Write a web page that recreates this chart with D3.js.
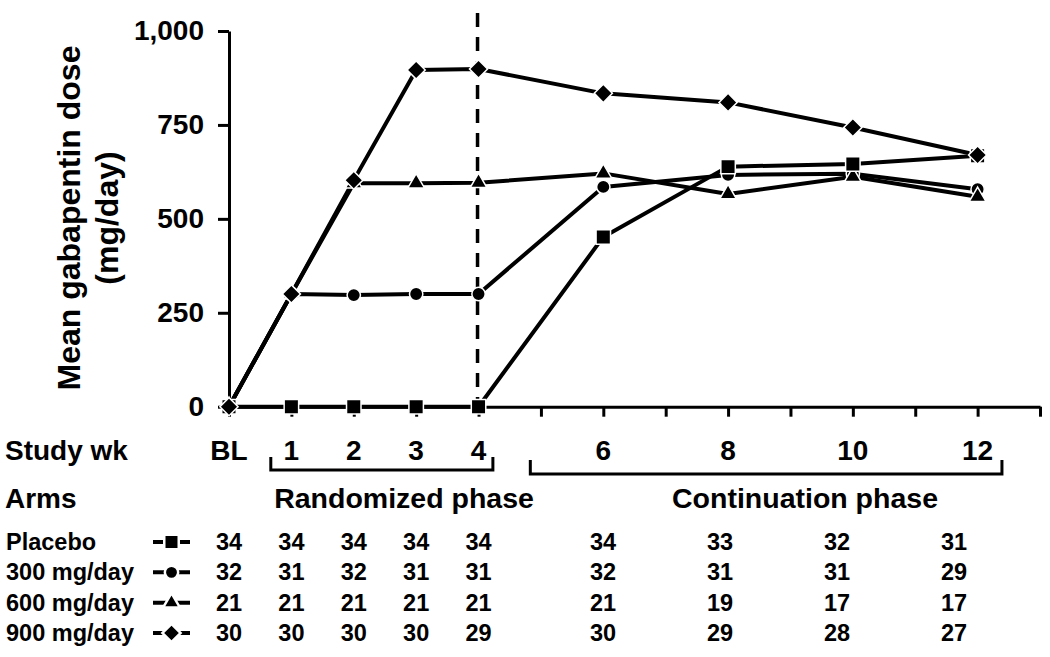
<!DOCTYPE html>
<html>
<head>
<meta charset="utf-8">
<script src="https://cdn.jsdelivr.net/npm/d3@7"></script>
<style>
  body { margin: 0; background: #fff; }
  svg { display: block; font-family: "Liberation Sans", Arial, sans-serif; font-weight: bold; }
  text { fill: #000; }
</style>
</head>
<body>
<svg width="1050" height="657"></svg>
<script>
'use strict';

// study weeks on the x axis (0 = baseline)
var weeks = [0, 1, 2, 3, 4, 6, 8, 10, 12];
var weekLabels = ['BL', '1', '2', '3', '4', '6', '8', '10', '12'];
var yTicks = [0, 250, 500, 750, 1000];

// mean dose per arm (mg/day)
var placebo = [0, 0, 0, 0, 0, 452, 639, 646, 668];
var dose300 = [0, 300, 297, 300, 300, 585, 617, 620, 579];
var dose600 = [0, 300, 595, 595, 596, 621, 566, 612, 559];
var dose900 = [0, 300, 603, 896, 899, 834, 810, 743, 670];

// number of patients per arm and week
var arms = ['Placebo', '300 mg/day', '600 mg/day', '900 mg/day'];
var nPlacebo = [34, 34, 34, 34, 34, 34, 33, 32, 31];
var n300 = [32, 31, 32, 31, 31, 32, 31, 31, 29];
var n600 = [21, 21, 21, 21, 21, 21, 19, 17, 17];
var n900 = [30, 30, 30, 30, 29, 30, 29, 28, 27];

// diamond = square turned 45 degrees (d3's own diamond is too tall)
var series = [
    { name: '300 mg/day', values: dose300, n: n300, symbol: d3.symbolCircle, size: 140, rot: 0 },
    { name: '600 mg/day', values: dose600, n: n600, symbol: d3.symbolTriangle, size: 120, rot: 0 },
    { name: 'Placebo', values: placebo, n: nPlacebo, symbol: d3.symbolSquare, size: 210, rot: 0 },
    { name: '900 mg/day', values: dose900, n: n900, symbol: d3.symbolSquare, size: 165, rot: 45 }
];

var svg = d3.select('svg');

var x = d3.scaleLinear().domain([0, 13]).range([229, 1040]);
var y = d3.scaleLinear().domain([0, 1000]).range([406.7, 31]);

// y axis
var yAxis = svg.append('g')
    .attr('transform', 'translate(229,0)')
    .call(d3.axisLeft(y).tickValues(yTicks).tickFormat(d3.format(',')).tickSize(11).tickSizeOuter(0).tickPadding(14));
yAxis.selectAll('path, line').attr('stroke', '#000').attr('stroke-width', 3);
yAxis.selectAll('text').attr('font-size', 28).attr('font-family', null).attr('fill', '#000');

// x axis: ticks every week, labels drawn separately
var xAxis = svg.append('g')
    .attr('transform', 'translate(0,' + y(0) + ')')
    .call(d3.axisBottom(x).tickValues(d3.range(0, 14)).tickFormat('').tickSize(10).tickSizeOuter(0));
xAxis.selectAll('path, line').attr('stroke', '#000').attr('stroke-width', 3);

// y axis title
var title = svg.append('text')
    .attr('transform', 'translate(80,218) rotate(-90)')
    .attr('text-anchor', 'middle')
    .attr('font-size', 32);
title.append('tspan').attr('x', 0).attr('y', 0).text('Mean gabapentin dose');
title.append('tspan').attr('x', 0).attr('y', 38).text('(mg/day)');

// end of randomized phase
svg.append('line')
    .attr('x1', x(4) - 1).attr('x2', x(4) - 1)
    .attr('y1', 13).attr('y2', y(0))
    .attr('stroke', '#000').attr('stroke-width', 3.5)
    .attr('stroke-dasharray', '14,10');

// lines
var line = d3.line()
    .x(function (d, i) { return x(weeks[i]); })
    .y(function (d) { return y(d); });

series.forEach(function (s) {
    svg.append('path')
        .datum(s.values)
        .attr('d', line)
        .attr('fill', 'none')
        .attr('stroke', '#000')
        .attr('stroke-width', 4)
        .attr('stroke-linejoin', 'round');
});

series.forEach(function (s) {
    var sym = d3.symbol().type(s.symbol).size(s.size);
    svg.append('g').selectAll('path')
        .data(s.values)
        .enter().append('path')
        .attr('d', sym)
        .attr('transform', function (d, i) {
            return 'translate(' + x(weeks[i]) + ',' + y(d) + ') rotate(' + s.rot + ')';
        })
        .attr('fill', '#000')
        .attr('stroke', '#fff')
        .attr('stroke-width', 1.5);
});

// week labels
svg.append('text').attr('x', 5).attr('y', 460).attr('font-size', 28).text('Study wk');
svg.append('g').selectAll('text')
    .data(weeks)
    .enter().append('text')
    .attr('x', function (d) { return x(d); })
    .attr('y', 460)
    .attr('text-anchor', 'middle')
    .attr('font-size', 28)
    .text(function (d, i) { return weekLabels[i]; });

// phase brackets
function bracket(x1, x2, yTop, yBot) {
    svg.append('path')
        .attr('d', 'M' + x1 + ',' + yTop + 'V' + yBot + 'H' + x2 + 'V' + yTop)
        .attr('fill', 'none')
        .attr('stroke', '#000')
        .attr('stroke-width', 3);
}
bracket(x(0.67), x(4.23), 457, 470);
bracket(x(4.83), x(12.39), 460, 474);

svg.append('text').attr('x', 5).attr('y', 508).attr('font-size', 28).text('Arms');
svg.append('text').attr('x', 404).attr('y', 508).attr('text-anchor', 'middle').attr('font-size', 28.5).text('Randomized phase');
svg.append('text').attr('x', 805).attr('y', 508).attr('text-anchor', 'middle').attr('font-size', 28.5).text('Continuation phase');

// patient count table
var colX = d3.scaleLinear().domain([6, 12]).range([603, 954]);
function tableX(w) { return w <= 4 ? x(w) : colX(w); }
var rowY = d3.scaleLinear().domain([0, 3]).range([550, 641]);

arms.forEach(function (arm, r) {
    var s = series.filter(function (d) { return d.name === arm; })[0];
    var yy = rowY(r);
    svg.append('text').attr('x', 6).attr('y', yy).attr('font-size', 23.5).text(arm);
    // legend sample
    svg.append('line')
        .attr('x1', 153).attr('x2', 190)
        .attr('y1', yy - 8).attr('y2', yy - 8)
        .attr('stroke', '#000').attr('stroke-width', 4);
    svg.append('path')
        .attr('d', d3.symbol().type(s.symbol).size(s.size)())
        .attr('transform', 'translate(171.5,' + (yy - 8) + ') rotate(' + s.rot + ')')
        .attr('fill', '#000').attr('stroke', '#fff').attr('stroke-width', 2.5);
    svg.append('g').selectAll('text')
        .data(s.n)
        .enter().append('text')
        .attr('x', function (d, i) { return tableX(weeks[i]); })
        .attr('y', yy)
        .attr('text-anchor', 'middle')
        .attr('font-size', 23.5)
        .text(function (d) { return d; });
});
</script>
</body>
</html>
